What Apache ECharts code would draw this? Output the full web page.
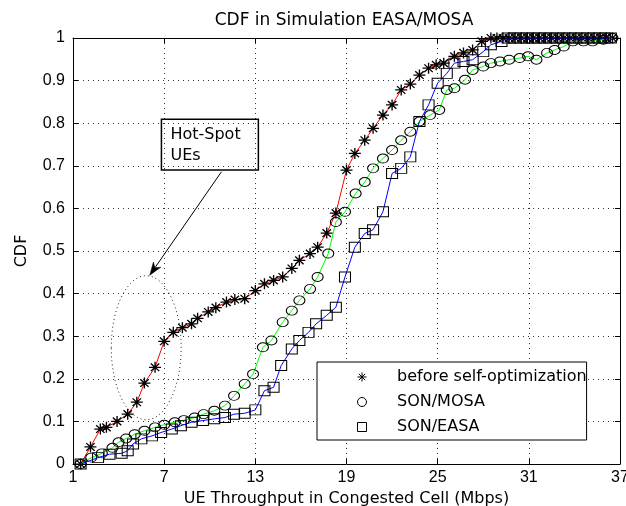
<!DOCTYPE html>
<html><head><meta charset="utf-8">
<script src="https://cdn.jsdelivr.net/npm/echarts@6/dist/echarts.min.js"></script>
<style>html,body{margin:0;padding:0;background:#fff}#c{width:626px;height:506px}</style>
</head><body><div id="c"></div>
<script>
const chartTitle = 'CDF in Simulation EASA/MOSA';
const xName = 'UE Throughput in Congested Cell (Mbps)';
const yName = 'CDF';
const seriesNames = ['before self-optimization', 'SON/MOSA', 'SON/EASA'];
const xTicks = [1, 7, 13, 19, 25, 31, 37];
const yTicks = [0, 0.1, 0.2, 0.3, 0.4, 0.5, 0.6, 0.7, 0.8, 0.9, 1];

const beforeOpt = [
  [1.5,0],[2.15,0.04],[2.8,0.082],[3.2,0.086],[3.9,0.10],[4.6,0.117],[5.2,0.145],[5.7,0.19],
  [6.4,0.227],[7.0,0.288],[7.6,0.309],[8.2,0.32],[8.8,0.329],[9.2,0.342],[9.9,0.357],[10.4,0.367],
  [11.1,0.38],[11.65,0.386],[12.3,0.388],[13.0,0.407],[13.6,0.423],[14.2,0.431],[14.8,0.439],
  [15.4,0.459],[15.9,0.478],[16.6,0.494],[17.1,0.509],[17.7,0.542],[18.3,0.589],[19.0,0.69],
  [19.55,0.729],[20.2,0.76],[20.75,0.788],[21.4,0.819],[22.0,0.843],[22.6,0.878],[23.2,0.892],
  [23.8,0.913],[24.4,0.929],[24.9,0.937],[25.4,0.941],[26.1,0.957],[26.7,0.965],[27.3,0.972],
  [27.9,0.992],[28.5,1.0],[28.9,1.0],[29.3,1.0],[29.7,1.0],[30.1,1.0],[30.5,1.0],[30.9,1.0],
  [31.3,1.0],[31.7,1.0],[32.1,1.0],[32.5,1.0],[32.9,1.0],[33.3,1.0],[33.7,1.0],[34.1,1.0],
  [34.5,1.0],[34.9,1.0],[35.3,1.0],[35.7,1.0],[36.1,1.0],[36.5,1.0]
];
const sonMosa = [
  [1.5,0],[2.2,0.015],[2.9,0.025],[3.6,0.038],[4.0,0.051],[4.5,0.060],[5.06,0.070],[5.7,0.078],
  [6.4,0.086],[7.0,0.092],[7.7,0.098],[8.3,0.103],[9.0,0.109],[9.6,0.117],[10.3,0.125],[11.0,0.137],
  [11.6,0.16],[12.3,0.188],[12.85,0.211],[13.5,0.274],[14.06,0.29],[14.8,0.333],[15.4,0.36],
  [15.9,0.384],[16.6,0.411],[17.1,0.439],[17.8,0.494],[18.3,0.568],[18.9,0.592],[19.6,0.635],
  [20.2,0.662],[20.75,0.694],[21.4,0.717],[22.0,0.737],[22.6,0.76],[23.2,0.78],[23.8,0.804],
  [24.5,0.819],[25.1,0.831],[25.6,0.878],[26.1,0.882],[26.8,0.902],[27.3,0.925],[28.0,0.933],
  [28.5,0.941],[29.1,0.945],[29.7,0.949],[30.4,0.953],[30.95,0.957],[31.5,0.949],[32.2,0.965],
  [32.7,0.972],[33.3,0.98],[33.9,0.992],[34.6,0.992],[35.2,0.992],[35.9,0.996],[36.5,1.0]
];
const sonEasa = [
  [1.5,0],[2.65,0.015],[3.4,0.023],[4.2,0.025],[4.6,0.031],[4.95,0.047],[5.5,0.059],[6.2,0.066],
  [6.8,0.074],[7.5,0.082],[8.1,0.09],[8.8,0.098],[9.55,0.102],[10.3,0.106],[11.0,0.109],[11.6,0.117],
  [12.3,0.119],[13.0,0.127],[13.6,0.172],[14.2,0.18],[14.7,0.231],[15.4,0.27],[15.9,0.29],
  [16.5,0.309],[17.0,0.329],[17.7,0.349],[18.3,0.368],[18.9,0.439],[19.55,0.509],[20.2,0.541],
  [20.75,0.55],[21.4,0.592],[22.0,0.682],[22.6,0.694],[23.2,0.721],[23.8,0.804],[24.4,0.843],
  [25.0,0.894],[25.6,0.917],[26.1,0.941],[26.7,0.945],[27.3,0.949],[28.0,0.968],[28.5,0.984],
  [29.2,0.992],[29.6,1.0],[30.0,1.0],[30.4,1.0],[30.8,1.0],[31.2,1.0],[31.6,1.0],[32.0,1.0],
  [32.4,1.0],[32.8,1.0],[33.2,1.0],[33.6,1.0],[34.0,1.0],[34.4,1.0],[34.8,1.0],[35.2,1.0],
  [35.6,1.0],[36.0,1.0],[36.4,1.0]
];

// annotation (data coordinates)
const noteLines = ['Hot-Spot', 'UEs'];
const noteBox = [[6.82, 0.809], [13.2, 0.69]];
const noteArrow = [[10.77, 0.686], [6.05, 0.443]];
const noteEllipse = { center: [5.82, 0.273], rx: 2.3, ry: 0.169 };

const ASTER = 'path://M5,0L5,10M0,5L10,5M1.5,1.5L8.5,8.5M8.5,1.5L1.5,8.5';
const SQUARE = 'path://M0,0L10,0L10,10L0,10Z';
const CIRCLE = 'circle';
const symbols = [ASTER, CIRCLE, SQUARE];
const symbolSizes = [[12, 11], [11, 9], [11, 10]];
const borderWidths = [1.3, 1, 1];
const lineColors = ['#ff0000', '#00ff00', '#0000ff'];
const dataSets = [beforeOpt, sonMosa, sonEasa];

const tickFont = { fontFamily: 'Liberation Sans', fontSize: 16, color: '#000' };
const labelFont = { fontFamily: 'DejaVu Sans', fontSize: 16, color: '#000' };
const gridDots = { show: true, lineStyle: { color: '#333', type: [1, 4], width: 1 } };

const chart = echarts.init(document.getElementById('c'), null, { renderer: 'canvas' });

const baseX = { type: 'value', min: xTicks[0], max: xTicks[xTicks.length - 1], interval: 6 };
const baseY = { type: 'value', min: yTicks[0], max: yTicks[yTicks.length - 1], interval: 0.1 };

chart.setOption({
  animation: false,
  backgroundColor: '#fff',
  title: {
    text: chartTitle, left: 344, top: 12, padding: 0, textAlign: 'center',
    textStyle: { fontFamily: 'DejaVu Sans', fontSize: 17, fontWeight: 'normal', color: '#000' }
  },
  grid: { left: 73, right: 6, top: 38, bottom: 42, show: false, containLabel: false, outerBoundsMode: 'none' },
  xAxis: [
    Object.assign({}, baseX, {
      position: 'bottom', name: xName, nameLocation: 'middle', nameGap: 27, nameTextStyle: labelFont,
      axisLine: { show: true, onZero: false, lineStyle: { color: '#000', width: 1 } },
      axisTick: { show: true, inside: true, length: 5, lineStyle: { color: '#000' } },
      axisLabel: Object.assign({ margin: 6 }, tickFont),
      splitLine: gridDots
    }),
    Object.assign({}, baseX, {
      position: 'top',
      axisLine: { show: true, onZero: false, lineStyle: { color: '#000', width: 1 } },
      axisTick: { show: true, inside: true, length: 5, lineStyle: { color: '#000' } },
      axisLabel: { show: false }, splitLine: { show: false }
    })
  ],
  yAxis: [
    Object.assign({}, baseY, {
      position: 'left', name: yName, nameLocation: 'middle', nameGap: 43, nameTextStyle: labelFont,
      axisLine: { show: true, onZero: false, lineStyle: { color: '#000', width: 1 } },
      axisTick: { show: true, inside: true, length: 5, lineStyle: { color: '#000' } },
      axisLabel: Object.assign({ margin: 8, formatter: v => String(Math.round(v * 10) / 10) }, tickFont),
      splitLine: gridDots
    }),
    Object.assign({}, baseY, {
      position: 'right',
      axisLine: { show: true, onZero: false, lineStyle: { color: '#000', width: 1 } },
      axisTick: { show: true, inside: true, length: 5, lineStyle: { color: '#000' } },
      axisLabel: { show: false }, splitLine: { show: false }
    })
  ],
  legend: {
    orient: 'vertical', left: 317, top: 362, padding: [7, 0, 5, 38],
    itemWidth: 60, itemHeight: 9, itemGap: 9, selectedMode: false,
    borderColor: '#000', borderWidth: 1, backgroundColor: '#fff',
    textStyle: labelFont,
    data: seriesNames.map((n, i) => ({
      name: n, icon: symbols[i],
      itemStyle: { color: 'none', borderColor: '#000', borderWidth: 1 }
    }))
  },
  series: seriesNames.map((n, i) => ({
    name: n, type: 'line', xAxisIndex: 0, yAxisIndex: 0,
    data: dataSets[i],
    symbol: symbols[i], symbolSize: symbolSizes[i], showAllSymbol: true,
    lineStyle: { color: lineColors[i], width: 1 },
    itemStyle: { color: 'none', borderColor: '#000', borderWidth: borderWidths[i] },
    emphasis: { disabled: true }, z: 3 + i
  }))
});

function drawNote() {
  const P = (pt) => chart.convertToPixel({ seriesIndex: 0 }, pt);
  const b0 = P(noteBox[0]), b1 = P(noteBox[1]);
  const a0 = P(noteArrow[0]), a1 = P(noteArrow[1]);
  const ec = P(noteEllipse.center);
  const ex = P([noteEllipse.center[0] + noteEllipse.rx, noteEllipse.center[1]]);
  const ey = P([noteEllipse.center[0], noteEllipse.center[1] + noteEllipse.ry]);
  const dx = a1[0] - a0[0], dy = a1[1] - a0[1];
  const len = Math.sqrt(dx * dx + dy * dy);
  const ux = dx / len, uy = dy / len;
  const hl = 13, hw = 4.5;
  const base = [a1[0] - ux * hl, a1[1] - uy * hl];
  const notch = [a1[0] - ux * hl * 0.7, a1[1] - uy * hl * 0.7];
  const head = [
    a1,
    [base[0] - uy * hw, base[1] + ux * hw],
    notch,
    [base[0] + uy * hw, base[1] - ux * hw]
  ];
  chart.setOption({
    graphic: [
      { type: 'ellipse', z: 10, shape: { cx: ec[0], cy: ec[1], rx: Math.abs(ex[0] - ec[0]), ry: Math.abs(ey[1] - ec[1]) },
        style: { fill: 'none', stroke: '#222', lineWidth: 1, lineDash: [1, 3] } },
      { type: 'rect', z: 10, shape: { x: b0[0], y: b0[1], width: b1[0] - b0[0], height: b1[1] - b0[1] },
        style: { fill: 'none', stroke: '#000', lineWidth: 1.5 } },
      { type: 'text', z: 10, x: b0[0] + 9, y: b0[1] + 7,
        style: { text: noteLines[0], fill: '#000', font: '16px "DejaVu Sans"' } },
      { type: 'text', z: 10, x: b0[0] + 9, y: b0[1] + 28,
        style: { text: noteLines[1], fill: '#000', font: '16px "DejaVu Sans"' } },
      { type: 'line', z: 10, shape: { x1: a0[0], y1: a0[1], x2: notch[0], y2: notch[1] },
        style: { stroke: '#000', lineWidth: 1 } },
      { type: 'polygon', z: 10, shape: { points: head }, style: { fill: '#000', stroke: '#000', lineWidth: 0.5 } }
    ]
  });
}
drawNote();
</script>
</body></html>
